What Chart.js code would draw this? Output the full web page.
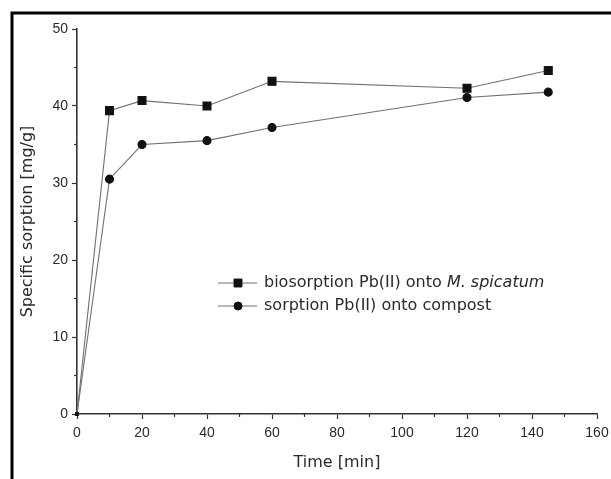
<!DOCTYPE html>
<html>
<head>
<meta charset="utf-8">
<script src="https://cdn.jsdelivr.net/npm/chart.js@4.4.1/dist/chart.umd.min.js"></script>
<style>
html,body{margin:0;padding:0;background:#fff}
#wrap{width:611px;height:479px;position:relative}
</style>
</head>
<body>
<div id="wrap"><canvas id="myChart"></canvas></div>
<script>
// data
const times = [0, 10, 20, 40, 60, 120, 145]
const bioValues = [0, 39.4, 40.7, 40.0, 43.2, 42.3, 44.6]
const compostValues = [0, 30.5, 35.0, 35.5, 37.2, 41.1, 41.8]

const xTicks = [0, 20, 40, 60, 80, 100, 120, 140, 160]
const xMinorTicks = [10, 30, 50, 70, 90, 110, 130, 150]
const yTicks = [0, 10, 20, 30, 40, 50]
const yMinorTicks = [5, 15, 25, 35, 45]

const legendLabels = ['biosorption Pb(II) onto ', 'sorption Pb(II) onto compost']
const legendItalic = ['M. spicatum', '']

const axisColor = '#333'
const textColor = '#2a2a2a'
const markColor = '#111'
const tickFont = {family: 'Liberation Sans', size: 14}
const titleFont = {family: 'DejaVu Sans', size: 16}

const toPoints = (xs, ys) => xs.map((x, i) => ({x: x, y: ys[i]}))

// black border of the scanned figure + minor ticks
const framePlugin = {
    id: 'frame',
    afterDraw(chart) {
        const c = chart.ctx
        const xs = chart.scales.x
        const ys = chart.scales.y
        c.save()
        c.strokeStyle = axisColor
        c.lineWidth = 1.2
        xMinorTicks.forEach(v => {
            const px = xs.getPixelForValue(v)
            c.beginPath()
            c.moveTo(px, xs.top)
            c.lineTo(px, xs.top + 3)
            c.stroke()
        })
        yMinorTicks.forEach(v => {
            const py = ys.getPixelForValue(v)
            c.beginPath()
            c.moveTo(ys.right - 3, py)
            c.lineTo(ys.right, py)
            c.stroke()
        })
        c.strokeStyle = '#000'
        c.lineWidth = 3
        c.beginPath()
        c.moveTo(12, chart.height)
        c.lineTo(12, 13)
        c.lineTo(chart.width, 13)
        c.stroke()
        c.restore()
    }
}

// legend inside the plot, with the species name in italics
const legendPlugin = {
    id: 'innerLegend',
    afterDatasetsDraw(chart) {
        const c = chart.ctx
        const area = chart.chartArea
        const x0 = area.left + 141
        const y0 = area.top + 254
        const rowGap = 23
        c.save()
        chart.data.datasets.forEach((ds, i) => {
            const y = y0 + i * rowGap
            c.strokeStyle = ds.borderColor
            c.lineWidth = 1.2
            c.beginPath()
            c.moveTo(x0, y)
            c.lineTo(x0 + 39, y)
            c.stroke()
            c.fillStyle = markColor
            c.strokeStyle = markColor
            c.lineWidth = 1
            Chart.helpers.drawPoint(c, {
                pointStyle: ds.pointStyle,
                radius: ds.legendRadius,
                borderWidth: 1
            }, x0 + 20, y)
            c.fillStyle = textColor
            c.textBaseline = 'middle'
            c.font = '16px "DejaVu Sans"'
            c.fillText(legendLabels[i], x0 + 46, y)
            if (legendItalic[i]) {
                const w = c.measureText(legendLabels[i]).width
                c.font = 'italic 16px "DejaVu Sans"'
                c.fillText(legendItalic[i], x0 + 46 + w, y)
            }
        })
        c.restore()
    }
}

const ctx = document.getElementById('myChart').getContext('2d')

const data = {
    datasets: [{
        label: legendLabels[0] + legendItalic[0],
        data: toPoints(times, bioValues),
        borderColor: '#707070',
        borderWidth: 1.1,
        backgroundColor: markColor,
        pointBackgroundColor: markColor,
        pointBorderColor: markColor,
        pointStyle: 'rect',
        legendRadius: 5.6,
        pointRadius: (c) => c.dataIndex === 0 ? 2 : 5.6,
        clip: false
    }, {
        label: legendLabels[1],
        data: toPoints(times, compostValues),
        borderColor: '#707070',
        borderWidth: 1.1,
        backgroundColor: markColor,
        pointBackgroundColor: markColor,
        pointBorderColor: markColor,
        pointStyle: 'circle',
        legendRadius: 4,
        pointRadius: (c) => c.dataIndex === 0 ? 1.5 : 4,
        clip: false
    }]
}

const config = {
    type: 'line',
    data: data,
    options: {
        responsive: true,
        maintainAspectRatio: false,
        devicePixelRatio: 1,
        animation: false,
        layout: {padding: {top: 29, right: 14, bottom: 0, left: 0}},
        elements: {line: {tension: 0}},
        plugins: {
            legend: {display: false},
            tooltip: {enabled: false}
        },
        scales: {
            x: {
                type: 'linear',
                min: 0,
                max: 160,
                afterBuildTicks: (s) => { s.ticks = xTicks.map(v => ({value: v})) },
                afterFit: (s) => { s.height = 65; s.paddingLeft = 0; s.paddingRight = 0 },
                grid: {drawOnChartArea: false, tickLength: 5, tickColor: axisColor, tickWidth: 1.2},
                border: {color: axisColor, width: 1.6},
                ticks: {font: tickFont, color: textColor, padding: 6, maxRotation: 0},
                title: {display: true, text: 'Time [min]', font: titleFont, color: textColor, padding: {top: 0, bottom: 7}}
            },
            y: {
                min: 0,
                max: 50,
                afterBuildTicks: (s) => { s.ticks = yTicks.map(v => ({value: v})) },
                afterFit: (s) => { s.width = 77; s.paddingTop = 0; s.paddingBottom = 0 },
                grid: {drawOnChartArea: false, tickLength: 5, tickColor: axisColor, tickWidth: 1.2},
                border: {color: axisColor, width: 1.6},
                ticks: {font: tickFont, color: textColor, padding: 4},
                title: {display: true, text: 'Specific sorption [mg/g]', font: titleFont, color: textColor, padding: {top: 18, bottom: 0}}
            }
        }
    },
    plugins: [framePlugin, legendPlugin]
}

const myChart = new Chart(ctx, config)
</script>
</body>
</html>
